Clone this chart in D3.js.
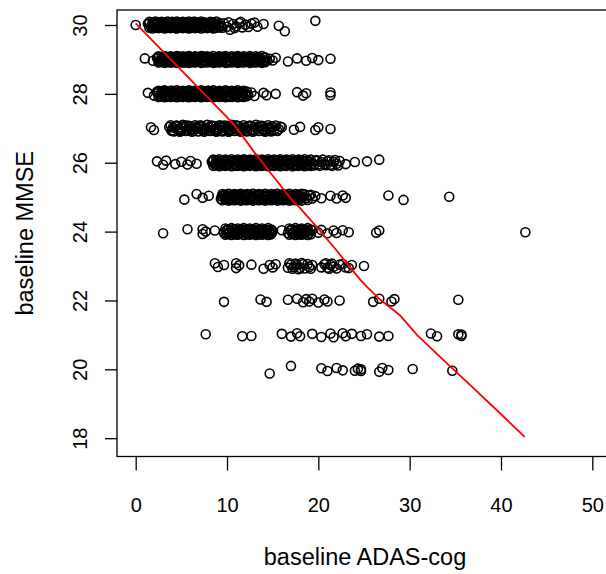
<!DOCTYPE html>
<html><head><meta charset="utf-8">
<script src="https://cdn.jsdelivr.net/npm/d3@7"></script>
<style>
body{margin:0;background:#fff}
svg{display:block}
text{font-family:"Liberation Sans",Arial,sans-serif;fill:#000}
</style>
</head><body>
<svg id="chart" width="606" height="574"></svg>
<script>
// ---------- data ----------
const xTicks = [0, 10, 20, 30, 40, 50];
const yTicks = [18, 20, 22, 24, 26, 28, 30];
const xTitle = "baseline ADAS-cog";
const yTitle = "baseline MMSE";

// scatter points [ADAS-cog, MMSE (jittered)] per MMSE level
const r30 = [[0,30.0],[1.33,30.04],[1.67,29.95],[2.0,30.07],[2.33,29.92],[2.33,30.03],[2.67,29.97],[3.0,30.08],[3.0,29.93],[3.33,30.01],[3.67,29.94],[3.67,30.06],[4.0,29.98],[4.0,30.09],[4.33,29.91],[4.33,30.03],[4.67,29.96],[4.67,30.07],[5.0,29.93],[5.0,30.02],[5.33,30.08],[5.33,29.95],[5.67,30.04],[5.67,29.92],[6.0,29.99],[6.0,30.06],[6.33,29.94],[6.33,30.09],[6.67,30.01],[6.67,29.93],[7.0,30.05],[7.0,29.97],[7.33,30.08],[7.67,29.94],[7.67,30.03],[8.0,29.96],[8.33,30.06],[8.67,29.92],[9.0,30.02],[9.33,29.97],[9.67,30.05],[10.0,29.95],[10.33,29.86],[10.67,30.03],[11.0,29.96],[11.33,30.06],[11.67,29.93],[12.0,30.01],[12.67,30.04],[13.33,29.95],[14.0,30.03],[15.67,29.98],[16.33,29.82],[19.67,30.12]];
const r30b = [[1.5,30.09],[1.5,29.92],[1.83,30.06],[1.83,29.9],[2.17,30.1],[2.17,29.93],[2.5,30.07],[2.5,29.91],[2.83,30.09],[2.83,29.94],[3.17,30.06],[3.17,29.9],[3.5,30.1],[3.5,29.92],[3.83,30.08],[3.83,29.91],[4.17,30.06],[4.17,29.93],[4.5,30.1],[4.5,29.9],[4.83,30.07],[4.83,29.92],[5.17,30.09],[5.17,29.91],[5.5,30.06],[5.5,29.94],[5.83,30.1],[5.83,29.9],[6.17,30.07],[6.17,29.92],[6.5,30.09],[6.5,29.91],[6.83,30.06],[6.83,29.93],[7.17,30.1],[7.17,29.9],[7.5,30.08],[7.5,29.92],[7.83,30.06],[7.83,29.91],[8.17,30.09],[8.17,29.94],[8.5,30.07],[8.5,29.9],[8.83,30.1],[8.83,29.92],[9.17,30.06],[9.17,29.93],[9.5,29.92],[10.17,30.08],[10.83,29.91],[11.5,30.09],[12.33,29.94],[13.0,30.07]];
const r30c = [[1.42,30.03],[1.75,29.98],[2.08,30.01],[2.42,29.97],[2.75,30.03],[3.08,29.98],[3.42,30.02],[3.75,29.97],[4.08,30.03],[4.42,29.98],[4.75,30.01],[5.08,29.97],[5.42,30.03],[5.75,29.98],[6.08,30.02],[6.42,29.97],[6.75,30.03],[7.08,29.98],[7.42,30.01],[7.75,29.97],[8.08,30.03],[8.42,29.98],[8.75,30.02],[9.08,29.97]];
const r29 = [[1.0,29.03],[1.89,28.96],[2.33,29.05],[2.67,28.93],[3.0,29.02],[3.33,29.08],[3.33,28.94],[3.67,29.01],[4.0,28.92],[4.0,29.06],[4.33,28.98],[4.67,29.09],[4.67,28.95],[5.0,29.03],[5.33,28.91],[5.33,29.05],[5.67,28.97],[6.0,29.08],[6.0,28.94],[6.33,29.02],[6.67,28.93],[6.67,29.07],[7.0,28.99],[7.33,29.09],[7.33,28.92],[7.67,29.04],[8.0,28.96],[8.0,29.06],[8.33,28.93],[8.67,29.03],[8.67,28.97],[9.0,29.08],[9.33,28.94],[9.67,29.01],[9.67,29.07],[10.0,28.92],[10.33,29.05],[10.67,28.96],[11.0,29.02],[11.0,28.93],[11.33,29.08],[11.67,28.97],[12.0,29.04],[12.33,28.94],[12.67,29.06],[13.0,28.98],[13.33,29.03],[13.67,28.93],[14.0,29.05],[14.33,28.96],[14.67,29.02],[15.0,28.97],[15.33,29.05],[16.67,28.94],[17.67,29.03],[18.67,28.96],[19.33,29.04],[20.0,28.98],[21.33,29.02]];
const r29b = [[2.5,29.09],[2.5,28.91],[2.83,29.07],[2.83,28.93],[3.17,29.1],[3.17,28.9],[3.5,29.06],[3.5,28.92],[3.83,29.09],[3.83,28.91],[4.17,29.07],[4.17,28.94],[4.5,29.1],[4.5,28.9],[4.83,29.06],[4.83,28.92],[5.17,29.09],[5.17,28.91],[5.5,29.07],[5.5,28.93],[5.83,29.1],[5.83,28.9],[6.17,29.06],[6.17,28.92],[6.5,29.09],[6.5,28.91],[6.83,29.07],[6.83,28.94],[7.17,29.1],[7.17,28.9],[7.5,29.06],[7.5,28.92],[7.83,29.09],[7.83,28.91],[8.17,29.07],[8.17,28.93],[8.5,29.1],[8.5,28.9],[8.83,29.06],[8.83,28.92],[9.17,29.09],[9.17,28.91],[9.5,29.07],[9.5,28.94],[9.83,29.1],[9.83,28.9],[10.17,29.06],[10.17,28.92],[10.5,29.09],[10.5,28.91],[10.83,29.07],[10.83,28.93],[11.17,29.1],[11.17,28.9],[11.5,29.06],[11.5,28.92],[11.83,29.09],[11.83,28.91],[12.17,29.07],[12.17,28.94],[12.5,29.1],[12.5,28.9],[12.83,29.06],[12.83,28.92],[13.17,29.09],[13.17,28.91],[13.5,29.07],[13.5,28.93],[13.83,29.1],[13.83,28.9],[14.17,29.06],[14.17,28.92]];
const r29c = [[2.42,29.03],[2.75,28.98],[3.08,29.01],[3.42,28.97],[3.75,29.03],[4.08,28.98],[4.42,29.02],[4.75,28.97],[5.08,29.03],[5.42,28.98],[5.75,29.01],[6.08,28.97],[6.42,29.03],[6.75,28.98],[7.08,29.02],[7.42,28.97],[7.75,29.03],[8.08,28.98],[8.42,29.01],[8.75,28.97],[9.08,29.03],[9.42,28.98],[9.75,29.02],[10.08,28.97],[10.42,29.03],[10.75,28.98],[11.08,29.01],[11.42,28.97],[11.75,29.03],[12.08,28.98],[12.42,29.02],[12.75,28.97],[13.08,29.03],[13.42,28.98],[13.75,29.01],[14.08,28.97]];
const r28 = [[1.33,28.03],[2.0,27.95],[2.33,28.06],[2.67,27.93],[3.0,28.02],[3.0,28.08],[3.33,27.94],[3.67,28.04],[3.67,27.97],[4.0,28.09],[4.33,27.92],[4.33,28.03],[4.67,27.96],[5.0,28.07],[5.0,27.93],[5.33,28.01],[5.67,27.95],[5.67,28.06],[6.0,27.98],[6.33,28.08],[6.33,27.92],[6.67,28.03],[7.0,27.96],[7.0,28.07],[7.33,27.94],[7.67,28.02],[7.67,27.97],[8.0,28.09],[8.33,27.93],[8.33,28.04],[8.67,27.98],[9.0,28.06],[9.33,27.94],[9.33,28.02],[9.67,27.96],[10.0,28.07],[10.33,27.93],[10.67,28.03],[11.0,27.97],[11.33,28.05],[11.67,27.95],[12.0,28.02],[12.33,27.97],[12.67,28.04],[13.0,27.94],[14.0,28.03],[14.33,27.96],[15.33,28.0],[17.67,28.05],[18.33,27.95],[18.67,28.02],[21.33,28.04],[21.33,27.96]];
const r28b = [[2.5,28.09],[2.5,27.91],[2.83,28.07],[2.83,27.93],[3.17,28.1],[3.17,27.9],[3.5,28.06],[3.5,27.92],[3.83,28.09],[3.83,27.91],[4.17,28.07],[4.17,27.94],[4.5,28.1],[4.5,27.9],[4.83,28.06],[4.83,27.92],[5.17,28.09],[5.17,27.91],[5.5,28.07],[5.5,27.93],[5.83,28.1],[5.83,27.9],[6.17,28.06],[6.17,27.92],[6.5,28.09],[6.5,27.91],[6.83,28.07],[6.83,27.94],[7.17,28.1],[7.17,27.9],[7.5,28.06],[7.5,27.92],[7.83,28.09],[7.83,27.91],[8.17,28.07],[8.17,27.93],[8.5,28.1],[8.5,27.9],[8.83,28.06],[8.83,27.92],[9.17,28.09],[9.17,27.91],[9.5,28.07],[9.5,27.93],[9.83,28.1],[9.83,27.9],[10.17,28.06],[10.17,27.92],[10.5,28.09],[10.5,27.91],[10.83,28.07],[10.83,27.93],[11.17,28.1],[11.17,27.9],[11.5,28.06],[11.5,27.92],[11.83,28.09],[11.83,27.91],[12.17,28.07],[12.17,27.93]];
const r28c = [[2.42,28.03],[2.75,27.98],[3.08,28.01],[3.42,27.97],[3.75,28.03],[4.08,27.98],[4.42,28.02],[4.75,27.97],[5.08,28.03],[5.42,27.98],[5.75,28.01],[6.08,27.97],[6.42,28.03],[6.75,27.98],[7.08,28.02],[7.42,27.97],[7.75,28.03],[8.08,27.98],[8.42,28.01],[8.75,27.97],[9.08,28.03],[9.42,27.98],[9.75,28.02],[10.08,27.97],[10.42,28.03],[10.75,27.98],[11.08,28.01],[11.42,27.97],[11.75,28.03],[12.08,27.98]];
const r27 = [[1.67,27.03],[2.0,26.95],[3.67,27.04],[4.0,26.94],[4.33,27.06],[4.67,26.97],[5.0,27.02],[5.0,26.92],[5.33,27.07],[5.67,26.96],[6.0,27.03],[6.33,26.93],[6.67,27.05],[6.67,26.98],[7.0,27.08],[7.33,26.94],[7.67,27.01],[8.0,26.96],[8.33,27.06],[8.67,26.93],[9.0,27.03],[9.0,26.97],[9.33,27.07],[9.67,26.95],[10.0,27.02],[10.33,26.92],[10.67,27.05],[11.0,26.97],[11.0,27.08],[11.33,26.94],[11.67,27.02],[12.0,26.96],[12.33,27.06],[12.67,26.93],[13.0,27.03],[13.33,26.97],[13.67,27.05],[14.0,26.94],[14.33,27.02],[14.67,26.96],[15.0,27.04],[15.67,26.97],[16.0,27.03],[17.33,26.96],[18.0,27.04],[19.67,26.95],[20.0,27.03],[21.33,26.98]];
const r27b = [[3.83,27.09],[4.17,26.91],[4.5,27.08],[4.83,26.9],[5.17,27.1],[5.5,26.92],[5.83,27.07],[6.17,26.9],[6.5,27.09],[6.83,26.91],[7.17,27.08],[7.5,26.9],[7.83,27.1],[8.17,26.92],[8.5,27.07],[8.83,26.9],[9.17,27.09],[9.5,26.91],[9.83,27.08],[10.17,26.9],[10.5,27.1],[10.83,26.92],[11.17,27.07],[11.5,26.9],[11.83,27.09],[12.17,26.91],[12.5,27.08],[12.83,26.9],[13.17,27.1],[13.5,26.92],[13.83,27.07],[14.17,26.9],[14.5,27.09],[14.83,26.91],[15.33,27.08],[15.5,26.92]];
const r27c = [[4.08,27.02],[4.75,26.98],[5.42,27.03],[6.08,26.98],[6.75,27.01],[7.42,26.97],[8.08,27.03],[8.75,26.98],[9.42,27.02],[10.08,26.97],[10.75,27.03],[11.42,26.98],[12.08,27.01],[12.75,26.97],[13.42,27.03],[14.08,26.98],[14.75,27.02]];
const r27d = [[3.92,26.93],[4.42,27.07],[4.92,26.94],[5.58,27.08],[6.25,26.93],[6.92,27.06],[7.58,26.94],[8.25,27.08],[8.92,26.93],[9.58,27.07],[10.25,26.94],[10.92,27.08],[11.58,26.93],[12.25,27.06],[12.92,26.94],[13.58,27.07],[14.25,26.93],[14.92,27.06],[15.17,26.95],[15.83,27.05]];
const r26 = [[2.33,26.04],[3.0,25.94],[3.33,26.06],[4.33,25.96],[5.0,26.03],[5.67,25.95],[6.0,26.05],[6.67,25.97],[8.33,26.03],[8.67,25.94],[9.0,26.06],[9.33,25.96],[9.67,26.02],[10.0,25.93],[10.0,26.07],[10.33,25.98],[10.67,26.04],[11.0,25.92],[11.0,26.06],[11.33,25.97],[11.67,26.03],[12.0,25.94],[12.0,26.08],[12.33,25.99],[12.67,26.05],[13.0,25.93],[13.0,26.03],[13.33,25.96],[13.67,26.07],[14.0,25.94],[14.0,26.02],[14.33,25.97],[14.67,26.06],[15.0,25.93],[15.0,26.04],[15.33,25.98],[15.67,26.07],[16.0,25.95],[16.33,26.03],[16.67,25.97],[17.0,26.06],[17.33,25.94],[17.67,26.02],[18.0,25.96],[18.33,26.05],[18.67,25.93],[19.0,26.03],[19.33,25.97],[19.67,26.06],[20.0,25.95],[20.33,26.02],[20.67,25.96],[21.0,26.04],[21.33,25.94],[21.67,26.03],[22.0,25.97],[22.33,26.05],[23.0,25.96],[24.0,26.02],[25.33,26.04],[26.67,26.09]];
const r26b = [[8.5,26.09],[8.5,25.91],[8.83,26.07],[8.83,25.93],[9.17,26.1],[9.17,25.9],[9.5,26.06],[9.5,25.92],[9.83,26.09],[9.83,25.91],[10.17,26.07],[10.17,25.94],[10.5,26.1],[10.5,25.9],[10.83,26.06],[10.83,25.92],[11.17,26.09],[11.17,25.91],[11.5,26.07],[11.5,25.93],[11.83,26.1],[11.83,25.9],[12.17,26.06],[12.17,25.92],[12.5,26.09],[12.5,25.91],[12.83,26.07],[12.83,25.94],[13.17,26.1],[13.17,25.9],[13.5,26.06],[13.5,25.92],[13.83,26.09],[13.83,25.91],[14.17,26.07],[14.17,25.93],[14.5,26.1],[14.5,25.9],[14.83,26.06],[14.83,25.92],[15.17,26.09],[15.17,25.91],[15.5,26.07],[15.5,25.93],[15.83,26.1],[15.83,25.9],[16.17,26.06],[16.17,25.92],[16.5,26.09],[16.5,25.91],[16.83,26.07],[16.83,25.94],[17.17,26.1],[17.17,25.9],[17.5,26.06],[17.5,25.92],[17.83,26.09],[17.83,25.91],[18.17,26.07],[18.17,25.93],[18.5,26.1],[18.5,25.9],[18.83,26.06],[18.83,25.92],[19.17,26.09],[19.17,25.91],[19.5,25.92],[19.83,26.08],[20.17,25.91],[20.5,26.09],[20.83,25.93],[21.17,26.07],[21.5,25.91],[21.83,26.08],[22.17,25.92]];
const r26c = [[8.42,26.03],[8.75,25.98],[9.08,26.01],[9.42,25.97],[9.75,26.03],[10.08,25.98],[10.42,26.02],[10.75,25.97],[11.08,26.03],[11.42,25.98],[11.75,26.01],[12.08,25.97],[12.42,26.03],[12.75,25.98],[13.08,26.02],[13.42,25.97],[13.75,26.03],[14.08,25.98],[14.42,26.01],[14.75,25.97],[15.08,26.03],[15.42,25.98],[15.75,26.02],[16.08,25.97],[16.42,26.03],[16.75,25.98],[17.08,26.01],[17.42,25.97],[17.75,26.03],[18.08,25.98],[18.42,26.02],[18.75,25.97],[19.08,26.03]];
const r25 = [[5.33,24.93],[6.67,25.09],[7.33,24.98],[8.0,25.04],[9.33,24.95],[9.67,25.06],[10.0,24.97],[10.0,25.03],[10.33,24.93],[10.67,25.07],[10.67,24.98],[11.0,25.04],[11.33,24.94],[11.33,25.06],[11.67,24.97],[12.0,25.03],[12.0,24.92],[12.33,25.07],[12.67,24.96],[12.67,25.02],[13.0,24.94],[13.33,25.06],[13.67,24.97],[14.0,25.03],[14.0,24.93],[14.33,25.05],[14.67,24.96],[15.0,25.04],[15.33,24.95],[15.67,25.02],[16.0,24.97],[16.33,25.06],[16.67,24.94],[17.0,25.03],[17.33,24.96],[17.67,25.05],[18.0,24.95],[18.33,25.02],[18.67,24.97],[19.0,25.05],[19.33,24.96],[19.67,25.03],[20.33,24.97],[21.33,25.04],[22.0,24.96],[22.67,25.05],[23.0,24.98],[27.67,25.05],[29.33,24.92],[34.33,25.01]];
const r25b = [[9.5,25.09],[9.5,24.91],[9.83,25.07],[9.83,24.93],[10.17,25.1],[10.17,24.9],[10.5,25.06],[10.5,24.92],[10.83,25.09],[10.83,24.91],[11.17,25.07],[11.17,24.94],[11.5,25.1],[11.5,24.9],[11.83,25.06],[11.83,24.92],[12.17,25.09],[12.17,24.91],[12.5,25.07],[12.5,24.93],[12.83,25.1],[12.83,24.9],[13.17,25.06],[13.17,24.92],[13.5,25.09],[13.5,24.91],[13.83,25.07],[13.83,24.94],[14.17,25.1],[14.17,24.9],[14.5,25.06],[14.5,24.92],[14.83,25.09],[14.83,24.91],[15.17,25.07],[15.17,24.93],[15.5,25.1],[15.5,24.9],[15.83,25.06],[15.83,24.92],[16.17,25.09],[16.17,24.91],[16.5,25.07],[16.5,24.93],[16.83,25.1],[16.83,24.9],[17.17,25.06],[17.17,24.92],[17.5,25.09],[17.5,24.91],[17.83,25.07],[17.83,24.93],[18.17,25.1],[18.17,24.9],[18.5,25.08],[18.83,24.92],[19.17,25.07]];
const r25c = [[9.42,25.03],[9.75,24.98],[10.08,25.01],[10.42,24.97],[10.75,25.03],[11.08,24.98],[11.42,25.02],[11.75,24.97],[12.08,25.03],[12.42,24.98],[12.75,25.01],[13.08,24.97],[13.42,25.03],[13.75,24.98],[14.08,25.02],[14.42,24.97],[14.75,25.03],[15.08,24.98],[15.42,25.01],[15.75,24.97],[16.08,25.03],[16.42,24.98],[16.75,25.02],[17.08,24.97],[17.42,25.03],[17.75,24.98],[18.08,25.01]];
const r24 = [[3.0,23.95],[5.67,24.07],[7.33,24.07],[7.33,23.93],[7.67,24.0],[8.67,24.03],[9.67,23.96],[10.0,24.05],[10.0,23.94],[10.33,24.02],[10.67,23.96],[10.67,24.07],[11.0,23.98],[11.33,24.04],[11.33,23.93],[11.67,24.06],[12.0,23.97],[12.0,24.03],[12.33,23.94],[12.67,24.05],[13.0,23.96],[13.0,24.02],[13.33,23.95],[13.67,24.04],[14.0,23.97],[14.33,24.03],[14.67,23.95],[15.0,24.02],[16.0,24.04],[16.67,23.96],[17.0,24.05],[17.33,23.95],[17.67,24.03],[18.0,23.97],[18.0,24.06],[18.33,23.94],[18.67,24.02],[19.0,23.96],[19.33,24.04],[20.0,23.97],[20.33,24.05],[21.0,23.95],[21.67,24.03],[22.0,23.96],[22.67,24.04],[23.33,23.98],[26.33,23.97],[26.67,24.03],[42.67,23.98]];
const r24b = [[9.83,24.09],[9.83,23.91],[10.17,24.07],[10.17,23.93],[10.5,24.1],[10.5,23.9],[10.83,24.06],[10.83,23.92],[11.17,24.09],[11.17,23.91],[11.5,24.07],[11.5,23.94],[11.83,24.1],[11.83,23.9],[12.17,24.06],[12.17,23.92],[12.5,24.09],[12.5,23.91],[12.83,24.07],[12.83,23.93],[13.17,24.1],[13.17,23.9],[13.5,24.06],[13.5,23.92],[13.83,24.09],[13.83,23.91],[14.17,24.07],[14.17,23.93],[14.5,24.1],[14.5,23.9],[14.83,24.06],[14.83,23.92],[16.83,24.09],[16.83,23.91],[17.17,24.07],[17.17,23.93],[17.5,24.1],[17.5,23.9],[17.83,24.06],[17.83,23.92],[18.17,24.09],[18.17,23.91],[18.5,24.07],[18.5,23.93],[18.83,24.1],[18.83,23.9],[19.17,24.06],[19.17,23.92]];
const r24c = [[9.92,24.03],[10.25,23.98],[10.58,24.01],[10.92,23.97],[11.25,24.03],[11.58,23.98],[11.92,24.02],[12.25,23.97],[12.58,24.03],[12.92,23.98],[13.25,24.01],[13.58,23.97],[13.92,24.03],[14.25,23.98],[14.58,24.02],[14.92,23.97],[16.92,24.03],[17.25,23.98],[17.58,24.01],[17.92,23.97],[18.25,24.03],[18.58,23.98],[18.92,24.02]];
const r23 = [[8.67,23.08],[9.0,22.97],[9.67,23.03],[11.0,23.08],[11.0,22.94],[11.33,23.02],[12.67,23.04],[14.0,22.92],[14.67,23.03],[15.0,22.96],[15.33,23.05],[16.67,22.95],[17.0,23.04],[17.33,22.97],[17.67,23.03],[18.0,22.94],[18.33,23.05],[19.0,22.97],[19.33,23.03],[20.33,22.96],[20.67,23.05],[21.0,22.95],[21.33,23.03],[21.67,22.98],[22.33,23.04],[23.0,22.96],[23.67,23.03],[25.0,23.0]];
const r23b = [[16.83,23.08],[17.17,22.92],[17.5,23.07],[17.83,22.91],[18.17,23.09],[18.5,22.93],[18.83,23.06],[19.17,22.92],[20.83,23.08],[21.17,22.92],[21.5,23.07],[22.0,22.93],[22.67,23.06],[23.33,22.94]];
const r22 = [[9.67,21.96],[13.67,22.03],[14.33,21.96],[16.67,22.02],[17.67,22.05],[18.33,21.95],[18.67,22.04],[19.0,21.97],[19.33,22.05],[20.0,21.94],[20.67,22.03],[21.0,21.97],[22.33,22.0],[26.0,21.96],[26.67,22.05],[28.0,21.97],[28.33,22.04],[35.33,22.02]];
const r21 = [[7.67,21.02],[11.67,20.96],[12.67,20.97],[16.0,21.03],[17.0,20.95],[17.67,21.05],[18.0,20.96],[19.33,21.03],[20.33,20.94],[21.33,21.04],[21.67,20.93],[22.67,21.05],[23.0,20.96],[23.67,21.03],[24.67,20.97],[25.33,21.02],[26.67,20.95],[27.67,20.97],[32.33,21.04],[33.0,20.96],[35.33,21.02],[35.67,20.97],[35.67,21.01]];
const r20 = [[14.67,19.88],[17.0,20.1],[20.33,20.03],[21.0,19.95],[22.0,20.04],[22.67,19.97],[24.0,19.96],[24.33,20.02],[24.67,19.95],[24.67,20.0],[26.67,19.93],[27.0,20.04],[27.67,19.98],[30.33,20.01],[34.67,19.96]];

// lowess smooth (red line)
const lowessX = [0, 5.3, 10.7, 13.0, 15.4, 17.1, 18.0, 20.2, 22.0, 24.6, 25.3, 26.8, 28.9, 30.8, 33.7, 36.0, 39.0, 42.6];
const lowessY = [30.05, 28.6, 27.13, 26.3, 25.49, 24.92, 24.68, 24.02, 23.45, 22.6, 22.4, 22.02, 21.58, 21.0, 20.27, 19.7, 18.95, 18.04];

// ---------- chart ----------
const svg = d3.select("#chart");
const box = {left: 117, top: 10, right: 610, bottom: 456.5};
const x = d3.scaleLinear().domain([0, 50]).range([135.7, 592.3]);
const y = d3.scaleLinear().domain([18, 30]).range([438.2, 25]);

const points = [].concat(r30, r30b, r30c, r29, r29b, r29c, r28, r28b, r28c, r27, r27b, r27c, r27d,
  r26, r26b, r26c, r25, r25b, r25c, r24, r24b, r24c, r23, r23b, r22, r21, r20);

svg.append("g")
  .selectAll("circle").data(points).join("circle")
  .attr("cx", d => x(d[0])).attr("cy", d => y(d[1]))
  .attr("r", 4.5)
  .attr("fill", "none").attr("stroke", "#000").attr("stroke-width", 1.6);

const line = d3.line().x(d => x(d[0])).y(d => y(d[1]));
svg.append("path")
  .datum(lowessX.map((v, i) => [v, lowessY[i]]))
  .attr("d", line)
  .attr("fill", "none").attr("stroke", "#ff0000").attr("stroke-width", 1.8);

// box
svg.append("rect")
  .attr("x", box.left).attr("y", box.top)
  .attr("width", box.right - box.left).attr("height", box.bottom - box.top)
  .attr("fill", "none").attr("stroke", "#000").attr("stroke-width", 1.3);

// x axis
const gx = svg.append("g").attr("transform", `translate(0,${box.bottom})`)
  .call(d3.axisBottom(x).tickValues(xTicks).tickSize(14).tickFormat(d3.format("d")));
gx.select(".domain").remove();
gx.selectAll(".tick line").attr("stroke", "#000").attr("stroke-width", 1.3);
gx.selectAll(".tick text").attr("y", 55).attr("dy", null)
  .attr("font-size", 20).attr("font-family", "Liberation Sans, Arial, sans-serif").attr("fill", "#000");

// y axis
const gy = svg.append("g").attr("transform", `translate(${box.left},0)`)
  .call(d3.axisLeft(y).tickValues(yTicks).tickSize(12).tickFormat(d3.format("d")));
gy.select(".domain").remove();
gy.selectAll(".tick line").attr("stroke", "#000").attr("stroke-width", 1.3);
gy.selectAll(".tick text")
  .attr("x", null).attr("dy", null).attr("y", null)
  .attr("text-anchor", "middle")
  .attr("transform", "translate(-30,0) rotate(-90)")
  .attr("font-size", 20).attr("font-family", "Liberation Sans, Arial, sans-serif").attr("fill", "#000");

// titles
svg.append("text").attr("x", 365).attr("y", 565).attr("text-anchor", "middle")
  .attr("font-size", 23.5).text(xTitle);
svg.append("text").attr("transform", `translate(33,${(box.top + box.bottom) / 2}) rotate(-90)`)
  .attr("text-anchor", "middle").attr("font-size", 23.5).text(yTitle);
</script>
</body></html>
